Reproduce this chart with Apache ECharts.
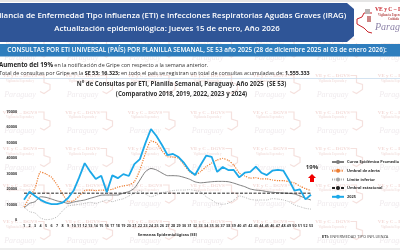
<!DOCTYPE html>
<html>
<head>
<meta charset="utf-8">
<style>
  html, body { margin: 0; padding: 0; background: #fff; }
  #chart { width: 400px; height: 250px; filter: blur(0.3px); }
</style>
</head>
<body>
<div id="chart"></div>
<script src="https://cdn.jsdelivr.net/npm/echarts@6/dist/echarts.min.js"></script>
<script>
const semanas = ['1','2','3','4','5','6','7','8','9','10','11','12','13','14','15','16','17','18','19','20','21','22','23','24','25','26','27','28','29','30','31','32','33','34','35','36','37','38','39','40','41','42','43','44','45','46','47','48','49','50','51','52','53'];
const curvaPromedio = [7700,10700,11800,15000,14600,13500,12300,11600,10700,11600,12300,12900,14000,15000,16000,16100,16100,16100,17400,18300,20500,25800,31200,33300,32300,30300,28600,28600,28400,27500,26300,24600,24000,24300,24700,24900,24900,24700,23800,22600,21500,20000,19300,19000,18300,17900,17600,17400,17200,16800,15500,14000,12900];
const umbralAlerta = [8400,14600,20600,31000,29700,27500,22600,16800,11800,12500,15500,19000,19300,19000,19300,19300,19800,21200,22000,22600,24700,32300,43000,51000,49700,44700,40800,40600,40000,35500,31200,29000,31200,34400,36700,38700,39700,38500,35500,30300,28400,27000,27300,26500,26500,25800,25400,25400,24700,23900,21900,20200,19000];
const limiteInferior = [8400,5400,4500,1300,200,600,2100,6000,9000,9700,10100,10700,11400,10700,11800,12900,11800,12900,13700,15500,17200,19000,16800,15000,16100,17600,18300,19000,19300,19300,19600,19000,18300,15000,12900,10700,10100,10800,12900,15500,14600,13300,12900,12900,12900,13800,13500,12900,11800,9700,8600,7500,7000];
const umbralEstacional = [17300,17300,17300,17300,17300,17300,17300,17300,17300,17300,17300,17300,17300,17300,17300,17300,17300,17300,17300,17300,17300,17300,17300,17300,17300,17300,17300,17300,17300,17300,17300,17300,17300,17300,17300,17300,17300,17300,17300,17300,17300,17300,17300,17300,17300,17300,17300,17300,17300,17300,17300,17300,17300];
const casos2025 = [13000,18300,15500,13000,11200,10300,10300,11200,14200,19000,27500,36700,31200,26500,28600,18000,28800,27000,29600,28400,36100,39300,49600,58700,54200,48400,41900,42600,40600,36800,31800,29000,35500,41500,40800,31000,34200,32200,32300,27500,30500,31000,34400,30500,29000,31800,32400,31800,25800,19000,19800,13300,16323];

const chart = echarts.init(document.getElementById('chart'));
const fuente = '"Open Sans", sans-serif';

// marca de agua de fondo
const marcaAgua = [];
for (let fila = 0; fila < 7; fila++) {
  for (let col = 0; col < 7; col++) {
    const x = 20 + col * 62.5;
    const y = 37 + fila * 36.5;
    marcaAgua.push({
      type: 'text', silent: true, z: 0,
      style: { x: x, y: y, text: 'VE y C – DGVS', align: 'center', fill: '#f3dad7', font: 'bold 5px "Liberation Serif"' }
    });
    marcaAgua.push({
      type: 'text', silent: true, z: 0,
      style: { x: x, y: y + 6, text: 'Vigilancia Esperada y', align: 'center', fill: '#f3e2e0', font: 'bold 3px "Liberation Serif"' }
    });
    marcaAgua.push({
      type: 'text', silent: true, z: 0,
      style: { x: x, y: y + 17, text: 'Paraguay', align: 'center', fill: '#f0ebee', font: 'italic 8px "Liberation Serif"' }
    });
    marcaAgua.push({
      type: 'polyline', silent: true, z: 0,
      shape: { points: [[x + 18, y + 2], [x + 24, y + 2], [x + 24, y + 9], [x + 30, y + 11], [x + 30, y + 16], [x + 24, y + 20], [x + 20, y + 18]] },
      style: { stroke: '#f5e1de', fill: null, lineWidth: 1.2 }
    });
  }
}

const option = {
  animation: false,
  backgroundColor: '#fff',
  textStyle: { fontFamily: fuente },
  grid: { left: 24, right: 89, top: 111.5, height: 108.5, containLabel: false },
  legend: {
    orient: 'vertical',
    left: 326,
    top: 155,
    itemWidth: 12,
    itemHeight: 5,
    itemGap: 4.7,
    textStyle: { fontSize: 3.9, fontWeight: 'bold', color: '#333', padding: [0, 0, 0, -2] },
    data: ['Curva Epidémica Promedio', 'Umbral de alerta', 'Límite inferior', 'Umbral estacional', '2025']
  },
  xAxis: {
    type: 'category',
    data: semanas,
    boundaryGap: false,
    name: 'Semanas Epidemiológicas (SE)',
    nameLocation: 'middle',
    nameGap: 13,
    nameTextStyle: { fontSize: 4, fontWeight: 'bold', color: '#333' },
    axisLine: { show: false },
    axisTick: { show: false },
    axisLabel: { interval: 0, fontSize: 3.7, fontWeight: 'bold', color: '#333', margin: 3.5 }
  },
  yAxis: {
    type: 'value',
    min: 0,
    max: 70000,
    interval: 10000,
    axisLine: { show: false },
    axisTick: { show: false },
    splitLine: { show: false },
    axisLabel: { fontSize: 3.7, fontWeight: 'bold', color: '#333', margin: 7, formatter: function (v) { return String(v); } }
  },
  series: [
    { name: 'Curva Epidémica Promedio', type: 'line', data: curvaPromedio, symbol: 'none', z: 3, smooth: 0.2, lineStyle: { color: '#7f7f7f', width: 1 }, itemStyle: { color: '#7f7f7f' } },
    { name: 'Umbral de alerta', type: 'line', data: umbralAlerta, symbol: 'none', z: 3, smooth: 0.2, lineStyle: { color: '#ed7d31', width: 1.2, type: [1.2, 1.2] }, itemStyle: { color: '#ed7d31' } },
    { name: 'Límite inferior', type: 'line', data: limiteInferior, symbol: 'none', z: 3, smooth: 0.2, lineStyle: { color: '#a6a6a6', width: 0.8, type: [1, 1.2] }, itemStyle: { color: '#a6a6a6' } },
    { name: 'Umbral estacional', type: 'line', data: umbralEstacional, symbol: 'none', z: 4, lineStyle: { color: '#222', width: 1, type: [3, 1.5] }, itemStyle: { color: '#222' } },
    { name: '2025', type: 'line', data: casos2025, symbol: 'none', z: 5, lineStyle: { color: '#1ba8e8', width: 1.8 }, itemStyle: { color: '#1ba8e8' } }
  ],
  graphic: marcaAgua.concat([
    // bandas superior e inferior
    { type: 'rect', silent: true, z: 1, shape: { x: 0, y: 0, width: 400, height: 2 }, style: { fill: '#e6e6e6' } },
    { type: 'rect', silent: true, z: 1, shape: { x: 0, y: 248, width: 400, height: 2 }, style: { fill: '#eeeeee' } },
    // encabezado
    { type: 'polygon', silent: true, z: 2, shape: { points: [[0, 3], [347, 3], [354, 9], [354, 36], [347, 42], [0, 42]] }, style: { fill: '#2f5597' } },
    { type: 'text', silent: true, z: 3, style: { x: 167, y: 16, text: 'Vigilancia de Enfermedad Tipo Influenza (ETI) e Infecciones Respiratorias Agudas Graves (IRAG)', align: 'center', verticalAlign: 'middle', fill: '#fff', font: '600 7.9px ' + fuente } },
    { type: 'text', silent: true, z: 3, style: { x: 167, y: 29, text: 'Actualización epidemiológica: Jueves 15 de enero, Año 2026', align: 'center', verticalAlign: 'middle', fill: '#fff', font: '600 7.9px ' + fuente } },
    // banda de consultas
    { type: 'rect', silent: true, z: 2, shape: { x: 0, y: 44, width: 400, height: 12.5 }, style: { fill: '#2e7dbd' } },
    { type: 'text', silent: true, z: 3, style: { x: 197, y: 50.3, text: 'CONSULTAS POR ETI UNIVERSAL (PAÍS) POR PLANILLA SEMANAL, SE 53 año 2025 (28 de diciembre 2025 al 03 de enero 2026):', align: 'center', verticalAlign: 'middle', fill: '#fff', font: '600 6.4px ' + fuente } },
    // resumen
    { type: 'text', silent: true, z: 3, style: { x: -1, y: 65.5, text: '{b|Aumento del 19%} en la notificación de Gripe con respecto a la semana anterior.', verticalAlign: 'middle', fill: '#333', font: '5.4px ' + fuente, rich: { b: { fontWeight: 'bold', fontSize: 6.2, fontFamily: fuente, fill: '#222' } } } },
    { type: 'text', silent: true, z: 3, style: { x: -1, y: 73, text: 'Total de consultas por Gripe en la {b|SE 53: 16.323;} en todo el país se registran un total de consultas acumuladas de: {b|1.555.333}', verticalAlign: 'middle', fill: '#333', font: '5.4px ' + fuente, rich: { b: { fontWeight: 'bold', fontSize: 5.4, fontFamily: fuente, fill: '#222' } } } },
    { type: 'line', silent: true, z: 3, shape: { x1: 0, y1: 78.5, x2: 400, y2: 78.5 }, style: { stroke: '#c9dcee', lineWidth: 0.8 } },
    // titulo del grafico
    { type: 'text', silent: true, z: 3, style: { x: 181.5, y: 84.5, text: 'N° de Consultas por ETI, Planilla Semanal, Paraguay. Año 2025  (SE 53)', align: 'center', verticalAlign: 'middle', fill: '#333', font: 'bold 6.1px ' + fuente } },
    { type: 'text', silent: true, z: 3, style: { x: 181.5, y: 94, text: '(Comparativo 2018, 2019, 2022, 2023 y 2024)', align: 'center', verticalAlign: 'middle', fill: '#333', font: 'bold 6.1px ' + fuente } },
    // anotacion 19%
    { type: 'text', silent: true, z: 6, style: { x: 312, y: 167, text: '19%', align: 'center', verticalAlign: 'middle', fill: '#333', font: 'bold 6px ' + fuente } },
    { type: 'polygon', silent: true, z: 6, shape: { points: [[312, 174], [316, 178], [314, 178], [314, 182], [310, 182], [310, 178], [308, 178]] }, style: { fill: '#f00000' } },
    // nota
    { type: 'text', silent: true, z: 3, style: { x: 322, y: 237, text: '{b|ETI:} ENFERMEDAD TIPO INFLUENZA', verticalAlign: 'middle', fill: '#444', font: '4px ' + fuente, rich: { b: { fontWeight: 'bold', fontSize: 4, fontFamily: fuente, fill: '#222' } } } },
    // logo
    { type: 'rect', silent: true, z: 2, shape: { x: 355, y: 3, width: 45, height: 40 }, style: { fill: '#fff' } },
    { type: 'polyline', silent: true, z: 3, shape: { points: [[372, 13], [364, 13], [362, 17], [357, 19], [357, 24], [364, 28], [368, 32], [372, 33]] }, style: { stroke: '#c8242b', fill: null, lineWidth: 1 } },
    { type: 'rect', silent: true, z: 3, shape: { x: 365, y: 9, width: 5, height: 5 }, style: { fill: '#b9b4b4' } },
    { type: 'rect', silent: true, z: 3, shape: { x: 367, y: 16, width: 4, height: 6 }, style: { fill: '#a33' , opacity: 0.6} },
    { type: 'text', silent: true, z: 3, style: { x: 375, y: 10, text: 'VE y C – DGVS', verticalAlign: 'middle', fill: '#c8242b', font: 'bold 5.6px "Liberation Serif"' } },
    { type: 'text', silent: true, z: 3, style: { x: 378, y: 15, text: 'Vigilancia Esperada y', verticalAlign: 'middle', fill: '#b64a4a', font: 'bold 3px "Liberation Serif"' } },
    { type: 'text', silent: true, z: 3, style: { x: 388, y: 19, text: 'Cuidada', verticalAlign: 'middle', fill: '#b64a4a', font: 'bold 3px "Liberation Serif"' } },
    { type: 'text', silent: true, z: 3, style: { x: 375, y: 27, text: 'Paraguay', verticalAlign: 'middle', fill: '#8d83a8', font: 'italic 10px "Liberation Serif"' } }
  ])
};

chart.setOption(option);
window.addEventListener('resize', function () {
  chart.resize();
});
</script>
</body>
</html>
